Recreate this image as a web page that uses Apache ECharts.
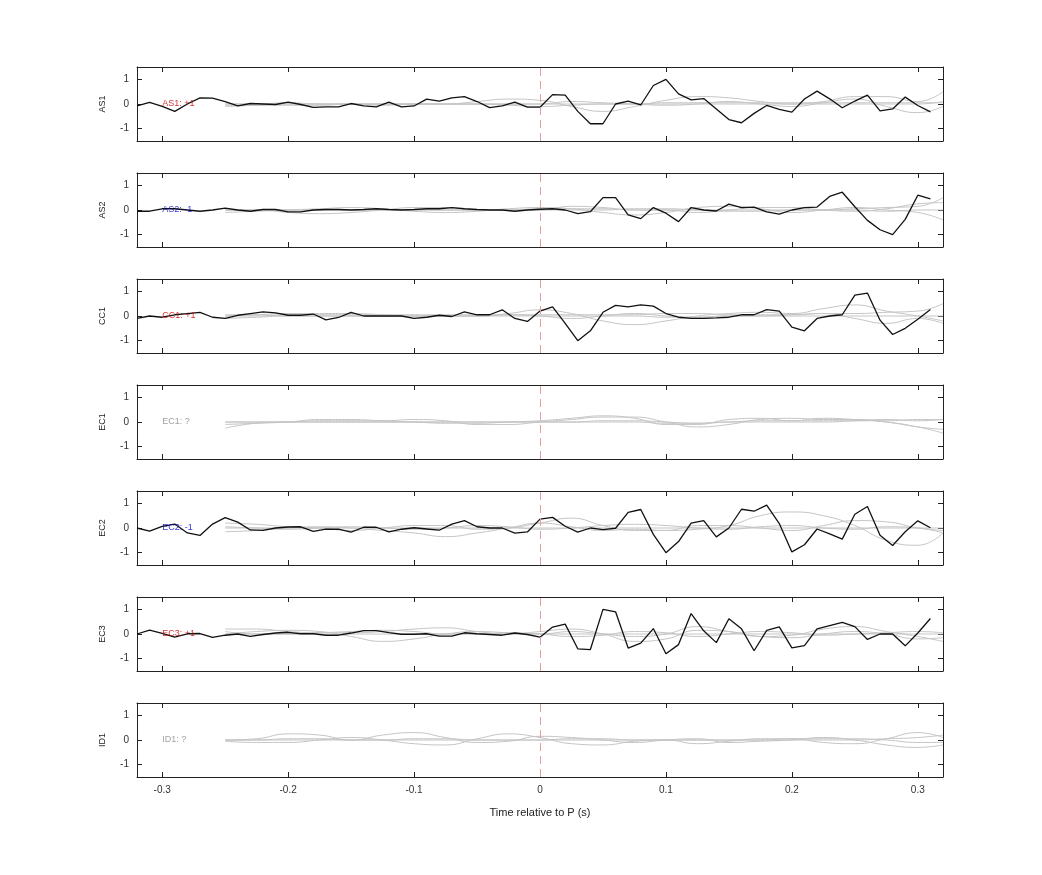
<!DOCTYPE html>
<html><head><meta charset="utf-8">
<script src="https://cdn.jsdelivr.net/npm/echarts@6/dist/echarts.min.js"></script>
<style>body{margin:0;background:#fff}#c{width:1042px;height:875px}</style>
</head><body><div id="c"></div>
<script>
// station names, polarity picks and label colours
var stations = ["AS1","AS2","CC1","EC1","EC2","EC3","ID1"];
var picks = ["+1","-1","+1","?","-1","+1","?"];
var pickColor = {"+1":"#cc0000","-1":"#0000cc","?":"#888888"};

// black trace sample times: -0.32 .. 0.31 step 0.01
var traceT = [-0.32,-0.31,-0.30,-0.29,-0.28,-0.27,-0.26,-0.25,-0.24,-0.23,-0.22,-0.21,-0.20,-0.19,-0.18,-0.17,-0.16,-0.15,-0.14,-0.13,-0.12,-0.11,-0.10,-0.09,-0.08,-0.07,-0.06,-0.05,-0.04,-0.03,-0.02,-0.01,
  0.00,0.01,0.02,0.03,0.04,0.05,0.06,0.07,0.08,0.09,0.10,0.11,0.12,0.13,0.14,0.15,0.16,0.17,0.18,0.19,0.20,0.21,0.22,0.23,0.24,0.25,0.26,0.27,0.28,0.29,0.30,0.31];

var AS1 = [-0.08,0.07,-0.1,-0.3,0.0,0.25,0.24,0.1,-0.08,0.02,0.0,-0.02,0.08,-0.02,-0.14,-0.12,-0.12,0.02,-0.08,-0.12,0.08,-0.12,-0.08,0.2,0.12,0.25,0.3,0.1,-0.15,-0.08,0.08,-0.13,
  -0.13,0.38,0.36,-0.3,-0.8,-0.8,0.0,0.12,-0.04,0.75,1.0,0.41,0.17,0.22,-0.2,-0.63,-0.76,-0.38,-0.06,-0.22,-0.33,0.2,0.52,0.21,-0.15,0.12,0.36,-0.28,-0.2,0.28,-0.06,-0.32];
var AS2 = [-0.05,-0.05,0.05,0.05,0.0,-0.05,0.0,0.08,0.0,-0.05,0.02,0.02,-0.08,-0.08,0.0,0.02,0.02,0.0,0.02,0.05,0.02,0.0,0.02,0.05,0.05,0.1,0.05,0.02,0.0,0.0,-0.05,0.0,
  0.03,0.05,0.0,-0.15,-0.07,0.5,0.5,-0.2,-0.35,0.1,-0.13,-0.47,0.1,0.0,-0.04,0.24,0.1,0.12,-0.08,-0.17,0.0,0.1,0.12,0.55,0.72,0.13,-0.42,-0.8,-1.0,-0.38,0.6,0.45];
var CC1 = [-0.1,0.0,-0.05,0.05,0.1,0.15,-0.05,-0.1,0.03,0.1,0.17,0.13,0.03,0.03,0.08,-0.16,-0.06,0.15,0.0,0.0,0.0,0.0,-0.1,-0.05,0.03,-0.02,0.17,0.05,0.05,0.25,-0.1,-0.22,
  0.2,0.37,-0.3,-1.0,-0.6,0.15,0.43,0.37,0.45,0.4,0.1,-0.05,-0.1,-0.1,-0.08,-0.05,0.05,0.05,0.26,0.2,-0.45,-0.6,-0.1,0.0,0.05,0.85,0.93,-0.17,-0.75,-0.5,-0.13,0.26];
var EC1 = null;
var EC2 = [0.0,-0.13,0.07,0.16,-0.2,-0.3,0.16,0.42,0.24,-0.08,-0.1,0.0,0.04,0.05,-0.14,-0.05,-0.05,-0.17,0.03,0.03,-0.16,-0.05,0.01,-0.04,-0.09,0.16,0.3,0.05,0.0,0.0,-0.21,-0.16,
  0.36,0.43,0.07,-0.17,0.0,-0.07,-0.01,0.63,0.75,-0.26,-1.0,-0.55,0.2,0.3,-0.36,0.0,0.76,0.68,0.93,0.18,-0.97,-0.68,-0.04,-0.24,-0.45,0.56,0.87,-0.29,-0.71,-0.15,0.29,0.01];
var EC3 = [0.0,0.16,0.03,-0.13,0.01,0.02,-0.14,-0.05,0.0,-0.1,-0.02,0.04,0.07,0.01,0.01,-0.05,-0.05,0.04,0.14,0.14,0.06,-0.01,-0.01,0.01,-0.09,-0.09,0.05,0.01,-0.02,-0.05,0.04,-0.02,
  -0.13,0.28,0.4,-0.6,-0.63,1.0,0.9,-0.57,-0.37,0.22,-0.8,-0.43,0.83,0.13,-0.35,0.62,0.21,-0.68,0.15,0.29,-0.56,-0.47,0.21,0.34,0.47,0.3,-0.22,0.0,0.0,-0.48,0.04,0.63];
var ID1 = null;
var traces = [AS1,AS2,CC1,EC1,EC2,EC3,ID1];

// grey comparison traces, sample times
var greyT = [-0.25,-0.225,-0.2,-0.175,-0.15,-0.125,-0.1,-0.075,-0.05,-0.025,0.0,0.025,0.05,0.075,0.1,0.125,0.15,0.175,0.2,0.225,0.25,0.275,0.3,0.32];
var greyAS1 = [
  [0,0,0,0,0,0,0,0,0,0,0,0,0,0,0.05,0.05,0.05,0.05,0.05,0.05,0.05,0.05,0.05,0.05],
  [-0.1,-0.05,0,0,0,0,0,0,0.1,0.2,0.15,-0.1,-0.3,-0.1,0.15,0.3,0.25,0.1,0,0.1,0.3,0.3,0.1,0.5],
  [0,0,0.05,0,0,-0.05,0,0,0,0,0,0.1,0.05,0,-0.05,0,0.1,0,-0.1,0.05,0.2,-0.1,-0.35,-0.1],
  [-0.05,-0.05,-0.05,-0.05,0,0,0,0,0,-0.05,-0.1,-0.05,0,0,0,0,0,0,0,0,0,0,0,0.1]];
var greyAS2 = [
  [0,0,0,0,0,0,0,0,0,0,0.05,0.05,0.05,0,0,0,0,0,0,0,0.05,0.1,0.15,0.5],
  [-0.1,-0.05,0,0.05,0.1,0.05,-0.05,-0.1,-0.05,0.05,0.1,0.05,-0.1,-0.2,-0.1,0.1,0.15,0.05,-0.1,0,0.1,0,-0.1,-0.4],
  [0,0,-0.1,-0.15,-0.1,0,0.1,0.1,0,0,0,0.15,0.1,0,0,-0.1,0,0.1,0.1,0,-0.05,0.05,0.25,0.3],
  [0,0,0,0,0,0,0,0,0,0,0,0,0,0.05,0.05,0,-0.05,-0.05,0,0,0,-0.05,0,0]];
var greyCC1 = [
  [0,0,0.05,0.05,0.05,0.05,0.05,0.05,0.05,0.05,0.05,0.05,0.05,0.05,0.1,0.1,0.05,0.05,0.05,0.1,0.1,0.15,0.2,0.5],
  [-0.1,-0.05,0,0,0,0,0,0,0,0.1,0.25,0.1,-0.2,-0.35,-0.2,0,0.1,0.15,0.1,0.3,0.45,0.2,0,-0.2],
  [0,0.05,0.1,0.1,0.1,0.05,0,0,0,0.05,0,-0.1,0,0.1,0,-0.05,0,0,0.05,0.1,-0.1,-0.3,-0.1,-0.3],
  [0.05,0.05,0,0,0,0,0,0,0,0,0,0,0,0,-0.05,-0.05,0,0,0,0,0,0,0,0]];
var greyEC1 = [
  [0,0,0,0,0,0,0,0,0,0,0,0,0.05,0.05,0,-0.05,0,0.05,0.05,0.05,0.05,0.05,0.1,0.1],
  [-0.25,-0.05,0,0.05,0.05,0.05,0.1,0.05,-0.1,-0.1,0,0.1,0.2,0.2,0,-0.2,-0.1,0.1,0.15,0.1,0.1,0,-0.2,-0.45],
  [-0.1,-0.05,0,0.1,0.1,0.05,0,-0.05,-0.05,0,0.05,0.15,0.25,0.15,-0.1,-0.1,0.1,0.15,0.05,0.15,0.1,0,-0.2,-0.3],
  [0,0,0,0,0,0,0,0,0,0,0,0,0,0,-0.05,-0.05,0,0,0,0,0.05,0.1,0.05,0.1]];
var greyEC2 = [
  [0,0,0,0,0,0,0,0,0,0,0,0,0,0,0,0,0,0,0,0,0,0,0,0],
  [-0.15,-0.1,0,0.05,0,-0.1,-0.2,-0.35,-0.2,0,0.2,0.05,-0.1,-0.05,-0.1,-0.05,0.1,0.5,0.65,0.5,0.1,-0.5,-0.7,-0.2],
  [0.2,0.15,0.05,0,-0.1,0,0.1,0.1,-0.05,0,0.2,0.4,0.1,-0.1,-0.1,0.1,0.1,0,-0.1,0.1,0.3,0.25,0,-0.1],
  [0.05,0,-0.05,0,0.05,0,-0.05,0,0.1,0.05,-0.05,0,0.1,0.15,0.1,0,-0.05,0.05,0.1,0,-0.05,0.05,0,-0.2]];
var greyEC3 = [
  [0.2,0.2,0.1,0.05,0.05,0.1,0.2,0.25,0.1,0,0.1,0.2,0,-0.3,-0.2,0.15,0.1,-0.1,-0.05,0.2,0.3,0.1,-0.1,-0.3],
  [0,0.1,0.15,0.1,-0.1,-0.3,-0.2,0,0.1,0.05,0,0.1,0,-0.1,0,0.3,0.1,-0.1,-0.15,0,0.1,0,-0.2,-0.15],
  [0.1,0,0,0.05,0.1,0.15,0.1,0,0,0.05,0,-0.1,-0.05,0.1,0.05,-0.1,0,0.1,0.05,-0.05,0,0.05,0.1,0.05],
  [0,0,0,0,0,0,0,0,0,0,0,0,0,0,0,0,0,0,0,0,0,0,0,0]];
var greyID1 = [
  [0,0.05,0.25,0.2,0,0.2,0.3,0.1,-0.1,-0.05,0.15,0.1,0,-0.1,0,0.05,-0.1,-0.05,0,0.1,0,-0.2,-0.3,-0.2],
  [-0.05,-0.1,-0.1,0,0.1,0,-0.15,-0.2,0.05,0.25,0.1,-0.15,-0.2,-0.05,0,-0.15,-0.05,0.05,0.05,-0.1,-0.15,0.05,0.3,0.1],
  [0,0,0.05,0.05,0,0,0.05,0.05,0,0,0,0.05,0.05,0,0,0,0,0,0.05,0.05,0.05,0,-0.1,-0.1],
  [0,0,0,0,0,0,0,0,0,0,0,0,0,0,0,0,0,0,0,0,0,0.05,0.1,0.2]];
var greys = [greyAS1,greyAS2,greyCC1,greyEC1,greyEC2,greyEC3,greyID1];

var xTicks = [-0.3,-0.2,-0.1,0,0.1,0.2,0.3];
var yTicks = [-1,0,1];

var grids=[],xAxes=[],yAxes=[],series=[];
var font = "Liberation Sans";
function pair(t,v){return t.map(function(x,i){return [x,v[i]];});}

stations.forEach(function(st,i){
  var last = (i==stations.length-1);
  grids.push({left:137,right:99,top:67+106*i,height:74});
  var line = {show:true,onZero:false,lineStyle:{color:'#222',width:1}};
  var tick = {show:true,inside:true,length:5,customValues:xTicks,lineStyle:{color:'#222'}};
  xAxes.push({type:'value',gridIndex:i,min:-0.32,max:0.32,position:'bottom',axisLine:line,axisTick:tick,splitLine:{show:false},
    axisLabel:{show:last,customValues:xTicks,color:'#333',fontSize:10,fontFamily:font,margin:8,formatter:function(v){return v==0?'0':String(v);}},
    name:last?'Time relative to P (s)':'',nameLocation:'middle',nameGap:30,nameTextStyle:{color:'#222',fontSize:11,fontFamily:font}});
  xAxes.push({type:'value',gridIndex:i,min:-0.32,max:0.32,position:'top',axisLine:line,axisTick:tick,axisLabel:{show:false},splitLine:{show:false}});
  var yt = {show:true,inside:true,length:5,customValues:yTicks,lineStyle:{color:'#222'}};
  yAxes.push({type:'value',gridIndex:i,min:-1.5,max:1.5,position:'left',axisLine:line,axisTick:yt,splitLine:{show:false},
    axisLabel:{customValues:yTicks,color:'#333',fontSize:10,fontFamily:font,margin:8},
    name:st,nameLocation:'middle',nameGap:30,nameRotate:90,nameTextStyle:{color:'#222',fontSize:9,fontFamily:font}});
  yAxes.push({type:'value',gridIndex:i,min:-1.5,max:1.5,position:'right',axisLine:line,axisTick:yt,axisLabel:{show:false},splitLine:{show:false}});

  greys[i].forEach(function(g,k){
    series.push({type:'line',xAxisIndex:2*i,yAxisIndex:2*i,data:pair(greyT,g),smooth:0.5,symbol:'none',silent:true,
      lineStyle:{color:'#c4c4c4',width:1},z:2,
      markLine:k==0?{silent:true,symbol:'none',label:{show:false},lineStyle:{color:'#e0a0a0',type:[8,5],width:1},data:[{xAxis:0}]}:undefined});
  });
  if(traces[i]){
    series.push({type:'line',xAxisIndex:2*i,yAxisIndex:2*i,data:pair(traceT,traces[i]),symbol:'none',silent:true,
      lineStyle:{color:'#111',width:1.3},z:3});
  }
  series.push({type:'scatter',xAxisIndex:2*i,yAxisIndex:2*i,data:[[-0.3,0]],symbolSize:0,silent:true,z:4,
    label:{show:true,position:'right',distance:0,formatter:st+': '+picks[i],color:pickColor[picks[i]],fontSize:9,fontFamily:font}});
});

var chart = echarts.init(document.getElementById('c'));
chart.setOption({animation:false,grid:grids,xAxis:xAxes,yAxis:yAxes,series:series});
</script>
</body></html>
